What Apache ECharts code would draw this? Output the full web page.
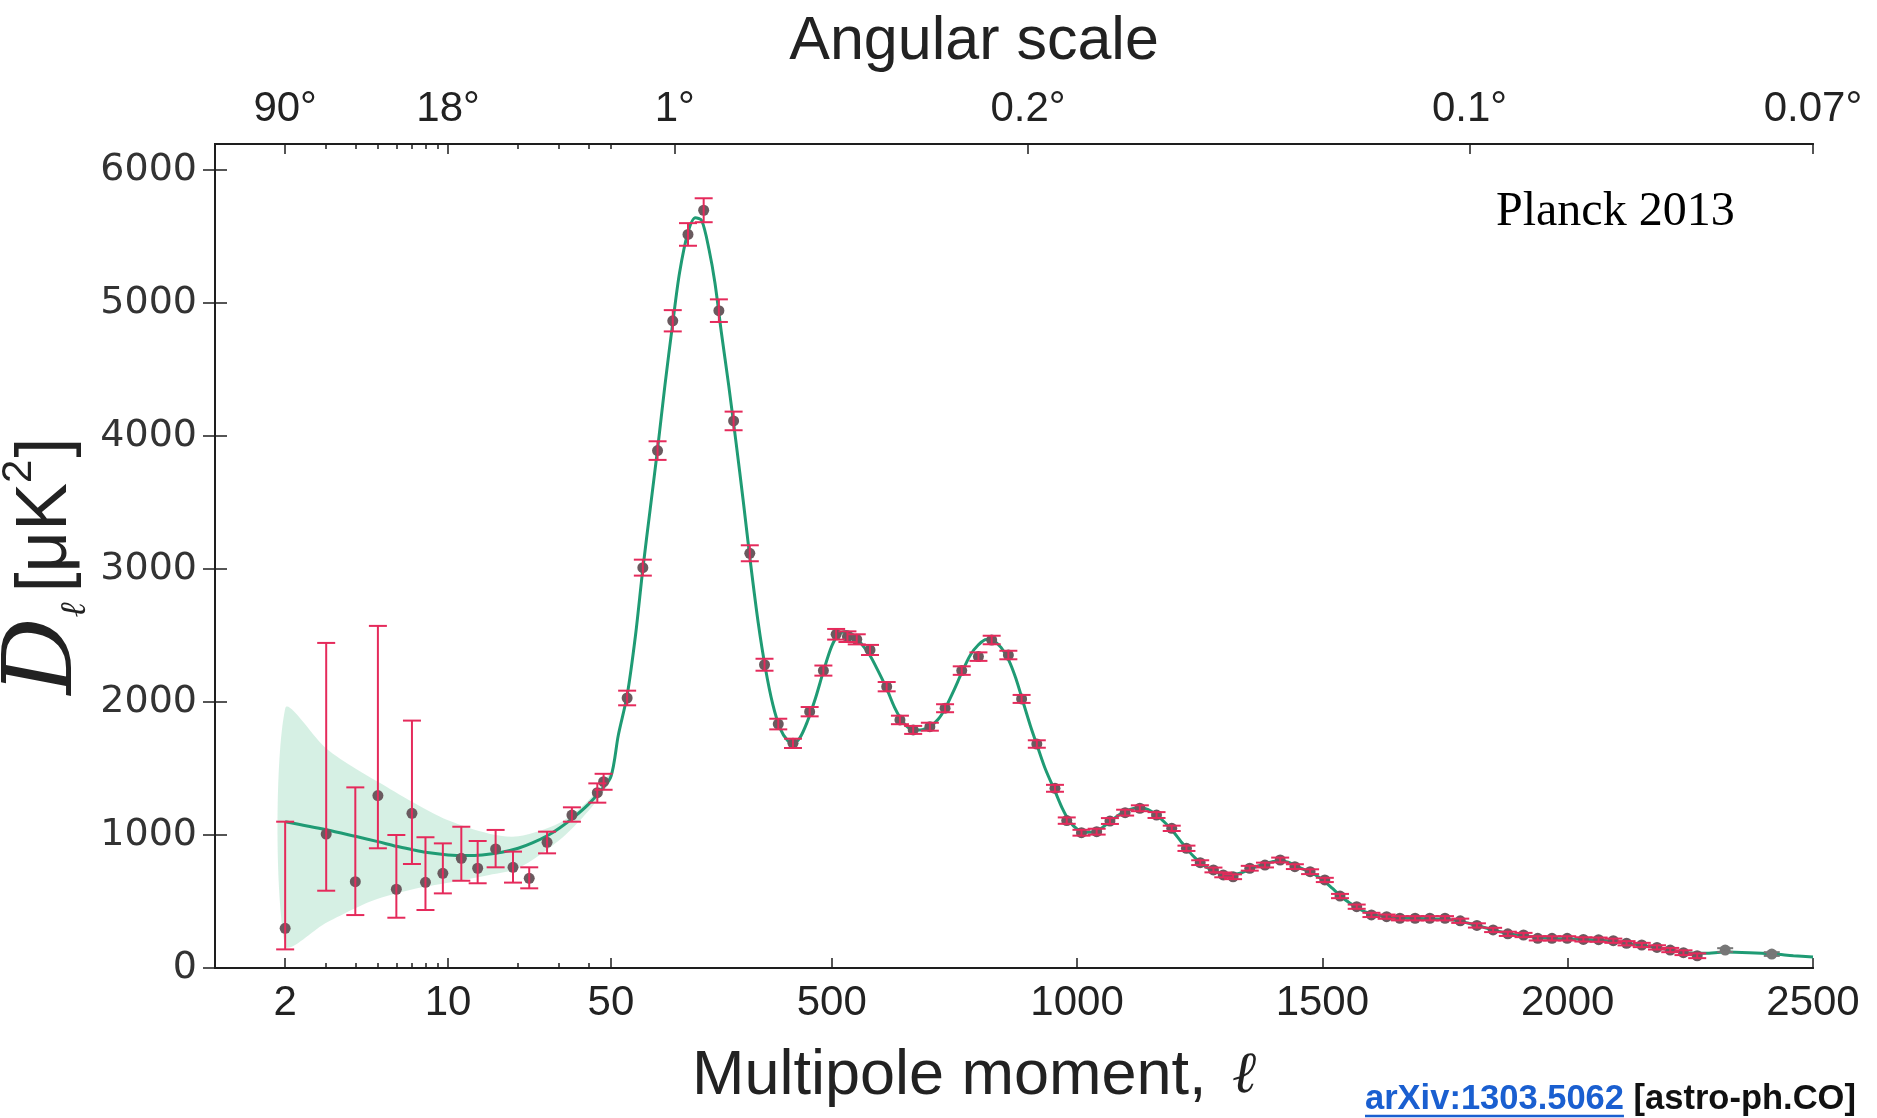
<!DOCTYPE html>
<html>
<head>
<meta charset="utf-8">
<title>Planck 2013 TT spectrum</title>
<script src="https://cdn.jsdelivr.net/npm/echarts@6/dist/echarts.min.js"></script>
<style>
  html, body { margin: 0; padding: 0; background: #fff; }
  #chart { width: 1877px; height: 1118px; }
</style>
</head>
<body>
<div id="chart"></div>
<script>
// low multipoles (log part of the axis), asymmetric errors
const lowEll = [2, 3, 4, 5, 6, 7, 8, 9.5, 11.4, 13.4, 16, 19, 22.3, 26.6, 34, 43.7, 46.5];
const lowVal = [298, 1007, 649, 1296, 592, 1163, 644, 712, 825, 750, 895, 757, 674, 945, 1150, 1318, 1401];
const lowHi = [1100, 2444, 1358, 2572, 1000, 1860, 983, 937, 1062, 955, 1038, 875, 757, 1025, 1208, 1388, 1460];
const lowLo = [140, 581, 398, 900, 378, 782, 436, 561, 656, 637, 757, 642, 599, 862, 1100, 1243, 1340];

// binned high multipoles (linear part)
const highEll = [83, 115, 145, 176, 207, 239, 270, 300, 333, 363,
  391, 421, 455, 483, 509, 532, 551, 578, 612, 639,
  666, 700, 731, 765, 799, 826, 860, 887, 918, 955,
  979, 1009, 1040, 1067, 1098, 1128, 1162, 1193, 1223, 1251,
  1278, 1298, 1318, 1352, 1383, 1414, 1444, 1475, 1505, 1536,
  1570, 1600, 1631, 1658, 1689, 1719, 1750, 1781, 1815, 1848,
  1878, 1910, 1939, 1968, 1999, 2032, 2063, 2093, 2120, 2151,
  2182, 2209, 2236, 2264];
const highVal = [2030, 3010, 3890, 4866, 5515, 5697, 4942, 4113, 3118, 2280,
  1834, 1689, 1927, 2236, 2509, 2491, 2471, 2391, 2115, 1865,
  1790, 1814, 1953, 2236, 2341, 2466, 2353, 2023, 1684, 1351,
  1108, 1017, 1025, 1105, 1168, 1201, 1150, 1050, 900, 792,
  737, 700, 686, 750, 774, 812, 762, 724, 662, 541,
  461, 399, 386, 374, 374, 374, 374, 355, 320, 286,
  257, 248, 223, 223, 223, 215, 213, 205, 186, 173,
  155, 135, 115, 92];
const highErr = [55, 60, 70, 80, 85, 90, 85, 70, 60, 45,
  40, 35, 35, 38, 40, 40, 38, 38, 35, 32,
  30, 30, 30, 32, 32, 32, 32, 30, 28, 26,
  24, 22, 22, 22, 22, 22, 22, 20, 20, 18,
  18, 18, 18, 18, 18, 18, 18, 18, 16, 16,
  16, 16, 16, 16, 16, 16, 16, 16, 16, 16,
  16, 16, 16, 16, 16, 16, 16, 16, 16, 16,
  16, 16, 18, 18];

// last two points drawn in grey
const tailEll = [2321, 2416];
const tailVal = [135, 105];
const tailErr = [14, 14];

// best-fit model curve
const modelEll = [2, 3, 4, 5, 6, 7, 8, 10, 12, 14, 17, 20, 23, 27, 30, 35, 40, 45, 50,
  65, 83, 100, 115, 130, 145, 160, 176, 190, 207, 222, 235, 250, 262, 275, 290, 305, 320, 335, 350,
  365, 380, 395, 410, 422, 435, 450, 467, 483, 500, 515, 530, 545, 560, 578, 595, 612, 628, 645,
  662, 680, 700, 717, 731, 748, 765, 782, 799, 815, 830, 845, 860, 875, 890, 905, 918, 935, 955,
  970, 985, 1000, 1015, 1030, 1045, 1067, 1085, 1100, 1115, 1130, 1145, 1162, 1180, 1195, 1210,
  1225, 1240, 1255, 1270, 1285, 1300, 1315, 1330, 1345, 1360, 1380, 1400, 1415, 1430, 1445, 1460,
  1475, 1490, 1505, 1520, 1536, 1555, 1570, 1585, 1600, 1630, 1660, 1700, 1740, 1770, 1800, 1830,
  1860, 1890, 1920, 1950, 1980, 2010, 2040, 2070, 2100, 2130, 2160, 2190, 2220, 2250, 2280, 2320,
  2370, 2420, 2460, 2500];
const modelVal = [1100, 1040, 990, 950, 915, 890, 870, 850, 845, 850, 870, 900, 940, 1000, 1050, 1140, 1230, 1330, 1440,
  1750, 2050, 2500, 3000, 3450, 3900, 4380, 4850, 5230, 5530, 5640, 5620, 5400, 5150, 4780, 4380, 3950, 3500, 3030, 2600,
  2250, 1980, 1800, 1710, 1690, 1730, 1850, 2030, 2230, 2420, 2510, 2530, 2500, 2440, 2350, 2230, 2100, 1960, 1850,
  1795, 1790, 1815, 1870, 1950, 2080, 2220, 2350, 2430, 2470, 2460, 2410, 2320, 2180, 2000, 1820, 1680, 1500, 1330,
  1200, 1100, 1045, 1020, 1020, 1040, 1100, 1150, 1180, 1200, 1205, 1190, 1150, 1090, 1030, 960,
  890, 830, 780, 745, 720, 705, 700, 710, 730, 755, 780, 800, 805, 795, 770, 745,
  720, 690, 650, 600, 545, 490, 455, 425, 405, 385, 376, 372, 368, 358, 335, 305,
  275, 252, 238, 228, 222, 218, 214, 208, 198, 182, 166, 148, 128, 112, 110, 120,
  115, 105, 92, 82];

// cosmic variance band at low multipoles
const bandEll = [2, 3, 4, 5, 7, 10, 15, 20, 30, 40, 50];
const bandHi = [1950, 1650, 1500, 1400, 1250, 1110, 1010, 990, 1090, 1260, 1470];
const bandLo = [170, 340, 450, 520, 590, 640, 700, 750, 960, 1180, 1410];

// axis ticks
const bottomTicks = [2, 10, 50, 500, 1000, 1500, 2000, 2500];
const logMinor = [3, 4, 5, 6, 7, 8, 9, 20, 30, 40];
const topTicks = [2, 10, 180, 900, 1800, 2500];
const topLabels = ['90°', '18°', '1°', '0.2°', '0.1°', '0.07°'];
const topMinor = [3, 4, 5, 6, 7, 8, 9, 20, 30, 40, 50];
const yTicks = [0, 1000, 2000, 3000, 4000, 5000, 6000];

// hybrid axis: log below l=50, linear above
const K = 475;
const X50 = Math.log10(50) * K;
function toX(l) {
    return l <= 50 ? Math.log10(l) * K : X50 + (l - 50);
}
const xMax = toX(2500);
const yMax = 6195;

const red = '#e52a5b';
const green = '#1f9b74';
const dot = '#6a5a5f';
const axisColor = '#1e1e1e';

function pick(list, labels, v) {
    for (let i = 0; i < list.length; i++) {
        if (Math.abs(toX(list[i]) - v) < 1e-6) return labels[i];
    }
    return '';
}

function errorBars(color, hw) {
    return function (params, api) {
        const x = api.value(0);
        const a = api.coord([x, api.value(1)]);
        const b = api.coord([x, api.value(2)]);
        const st = { stroke: color, lineWidth: 2 };
        return {
            type: 'group',
            children: [
                { type: 'line', shape: { x1: a[0], y1: a[1], x2: b[0], y2: b[1] }, style: st },
                { type: 'line', shape: { x1: a[0] - hw, y1: a[1], x2: a[0] + hw, y2: a[1] }, style: st },
                { type: 'line', shape: { x1: b[0] - hw, y1: b[1], x2: b[0] + hw, y2: b[1] }, style: st }
            ]
        };
    };
}

const lowBars = lowEll.map((l, i) => [toX(l), lowLo[i], lowHi[i]]);
const highBars = highEll.map((l, i) => [toX(l), highVal[i] - highErr[i], highVal[i] + highErr[i]]);
const tailBars = tailEll.map((l, i) => [toX(l), tailVal[i] - tailErr[i], tailVal[i] + tailErr[i]]);
const points = lowEll.map((l, i) => [toX(l), lowVal[i]])
    .concat(highEll.map((l, i) => [toX(l), highVal[i]]));
const tailPoints = tailEll.map((l, i) => [toX(l), tailVal[i]]);
const model = modelEll.map((l, i) => [toX(l), modelVal[i]]);

function xAxisBase(pos) {
    return {
        type: 'value', position: pos, min: 0, max: xMax,
        axisLine: { show: true, onZero: false, lineStyle: { color: axisColor, width: 2 } },
        splitLine: { show: false }
    };
}

// measure text for underline of the link
const ctx = document.createElement('canvas').getContext('2d');
const linkFont = 'bold 34.5px "Liberation Sans", Arial, sans-serif';
ctx.font = linkFont;
const linkText = 'arXiv:1303.5062';
const linkW = ctx.measureText(linkText).width;
const spaceW = ctx.measureText(' ').width;
const linkX = 1365;

const chart = echarts.init(document.getElementById('chart'), null, { renderer: 'canvas' });

chart.setOption({
    animation: false,
    backgroundColor: '#ffffff',
    grid: { left: 215, right: 64, top: 144, bottom: 150, containLabel: false, outerBoundsMode: 'none' },
    xAxis: [
        Object.assign(xAxisBase('bottom'), {
            axisTick: { show: true, inside: true, length: 10, customValues: bottomTicks.map(toX), lineStyle: { color: axisColor, width: 1.5 } },
            axisLabel: {
                show: true, customValues: bottomTicks.map(toX), margin: 14,
                fontFamily: '"Liberation Sans", Arial, sans-serif', fontSize: 42, color: '#222',
                formatter: v => pick(bottomTicks, bottomTicks.map(String), v)
            }
        }),
        Object.assign(xAxisBase('bottom'), {
            axisTick: { show: true, inside: true, length: 5, customValues: logMinor.map(toX), lineStyle: { color: axisColor, width: 1.5 } },
            axisLabel: { show: false }
        }),
        Object.assign(xAxisBase('top'), {
            axisTick: { show: true, inside: true, length: 10, customValues: topTicks.map(toX), lineStyle: { color: axisColor, width: 1.5 } },
            axisLabel: {
                show: true, customValues: topTicks.map(toX), margin: 14,
                fontFamily: '"Liberation Sans", Arial, sans-serif', fontSize: 42, color: '#222',
                formatter: v => pick(topTicks, topLabels, v)
            }
        }),
        Object.assign(xAxisBase('top'), {
            axisTick: { show: true, inside: true, length: 5, customValues: topMinor.map(toX), lineStyle: { color: axisColor, width: 1.5 } },
            axisLabel: { show: false }
        })
    ],
    yAxis: [
        {
            type: 'value', position: 'left', min: 0, max: yMax,
            axisLine: { show: true, lineStyle: { color: axisColor, width: 2 } },
            axisTick: { show: true, inside: true, length: 12, customValues: yTicks, lineStyle: { color: axisColor, width: 1.5 } },
            axisLabel: {
                show: true, customValues: yTicks, margin: 18,
                fontFamily: '"DejaVu Sans", sans-serif', fontSize: 38, color: '#333',
                formatter: v => String(v)
            },
            splitLine: { show: false }
        },
        {
            type: 'value', position: 'right', min: 0, max: yMax,
            axisLine: { show: true, lineStyle: { color: axisColor, width: 2 } },
            axisTick: { show: true, inside: true, length: 12, customValues: yTicks, lineStyle: { color: axisColor, width: 1.5 } },
            axisLabel: { show: false },
            splitLine: { show: false }
        }
    ],
    series: [
        {
            // cosmic variance band
            type: 'custom', name: 'band', z: 1, silent: true,
            data: [[toX(2), 0]],
            renderItem: function (params, api) {
                const up = bandEll.map((l, i) => api.coord([toX(l), bandHi[i]]));
                const dn = bandEll.map((l, i) => api.coord([toX(l), bandLo[i]])).reverse();
                return {
                    type: 'polygon',
                    shape: { points: up.concat(dn), smooth: 0.3 },
                    style: { fill: 'rgba(120, 205, 165, 0.3)' }
                };
            }
        },
        {
            type: 'line', name: 'model', z: 2,
            data: model, showSymbol: false, smooth: 0.3,
            lineStyle: { color: green, width: 3 }
        },
        {
            type: 'scatter', name: 'data', z: 3,
            data: points, symbolSize: 11,
            itemStyle: { color: dot, opacity: 1 }
        },
        {
            type: 'scatter', name: 'tail', z: 3,
            data: tailPoints, symbolSize: 11,
            itemStyle: { color: '#777', opacity: 1 }
        },
        {
            type: 'custom', name: 'lowErr', z: 4,
            data: lowBars, encode: { x: 0, y: [1, 2] },
            renderItem: errorBars(red, 9)
        },
        {
            type: 'custom', name: 'highErr', z: 4,
            data: highBars, encode: { x: 0, y: [1, 2] },
            renderItem: errorBars(red, 9)
        },
        {
            type: 'custom', name: 'tailErr', z: 4,
            data: tailBars, encode: { x: 0, y: [1, 2] },
            renderItem: errorBars('#777', 8)
        }
    ],
    graphic: [
        {
            type: 'text', x: 974, y: 42,
            style: {
                text: 'Angular scale', align: 'center', verticalAlign: 'middle',
                font: '61px "Liberation Sans", Arial, sans-serif', fill: '#222'
            }
        },
        {
            type: 'text', x: 974, y: 1077,
            style: {
                text: '{t|Multipole moment,} {l|ℓ}', align: 'center', verticalAlign: 'middle',
                rich: {
                    t: { fontFamily: '"Liberation Sans", Arial, sans-serif', fontSize: 63, fill: '#222' },
                    l: { fontFamily: '"DejaVu Serif", serif', fontStyle: 'italic', fontSize: 58, fill: '#222', padding: [0, 0, 0, 22] }
                }
            }
        },
        {
            type: 'text', x: 46, y: 566, rotation: Math.PI / 2,
            style: {
                text: '{d|D}{s|ℓ}{u|[μK}{p|2}{u|]}', align: 'center', verticalAlign: 'middle',
                rich: {
                    d: { fontFamily: '"DejaVu Serif", serif', fontStyle: 'italic', fontSize: 96, fill: '#222' },
                    s: { fontFamily: '"DejaVu Serif", serif', fontStyle: 'italic', fontSize: 36, fill: '#222', verticalAlign: 'bottom', padding: [34, 10, 0, 0] },
                    u: { fontFamily: '"Liberation Sans", Arial, sans-serif', fontSize: 72, fill: '#222' },
                    p: { fontFamily: '"Liberation Sans", Arial, sans-serif', fontSize: 42, fill: '#222', verticalAlign: 'top', padding: [0, 2, 32, 0] }
                }
            }
        },
        {
            type: 'text', x: 1496, y: 212,
            style: {
                text: 'Planck 2013', align: 'left', verticalAlign: 'middle',
                font: '48px "Liberation Serif", "Times New Roman", serif', fill: '#000'
            }
        },
        {
            type: 'text', x: linkX, y: 1099,
            style: { text: linkText, align: 'left', verticalAlign: 'middle', font: linkFont, fill: '#1a5fd0' }
        },
        {
            type: 'line',
            shape: { x1: linkX, y1: 1116, x2: linkX + linkW, y2: 1116 },
            style: { stroke: '#1a5fd0', lineWidth: 2.5 }
        },
        {
            type: 'text', x: linkX + linkW + spaceW, y: 1099,
            style: { text: '[astro-ph.CO]', align: 'left', verticalAlign: 'middle', font: linkFont, fill: '#111' }
        }
    ]
});
</script>
</body>
</html>
